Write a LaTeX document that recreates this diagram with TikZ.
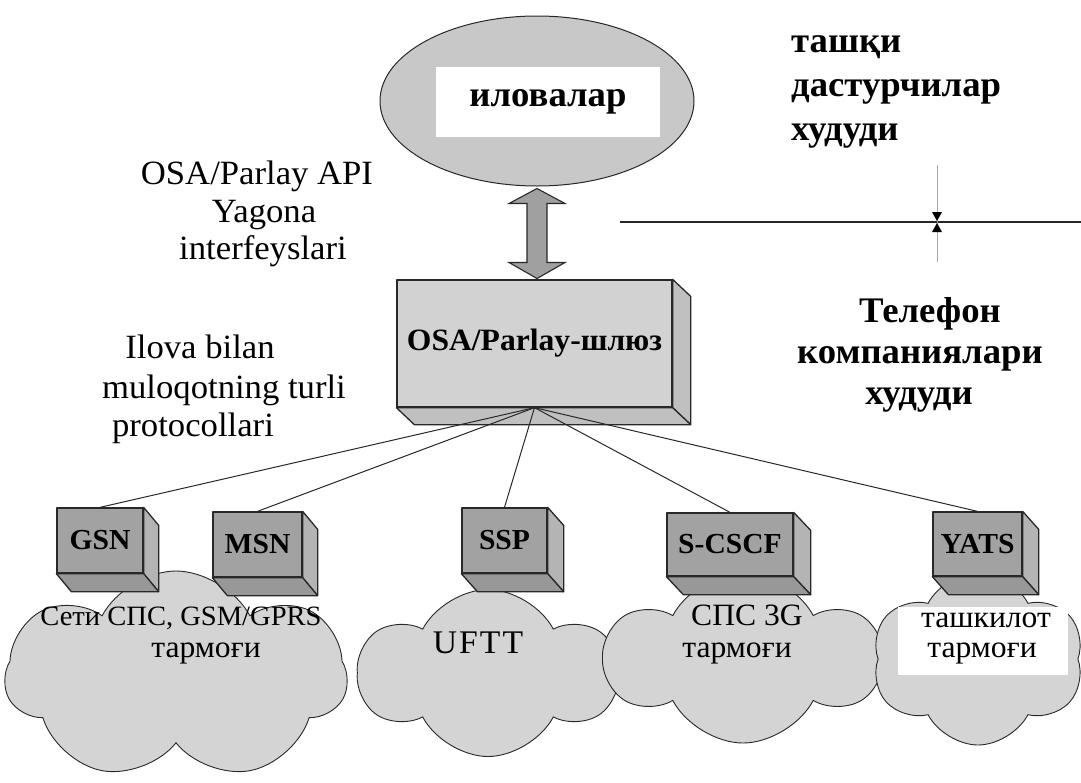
\documentclass[tikz,border=0pt]{standalone}
\usepackage{fontspec}
\setmainfont{Liberation Serif}[FakeStretch=1.02,
  BoldFont={Liberation Serif Bold}, ItalicFont={Liberation Serif Italic}]
\usetikzlibrary{shapes.geometric,shapes.symbols}

\definecolor{ellgray}{RGB}{200,200,200}
\definecolor{gwfront}{RGB}{210,210,210}
\definecolor{gwside}{RGB}{192,192,192}
\definecolor{bxfront}{RGB}{162,162,162}
\definecolor{bxside}{RGB}{180,180,180}
\definecolor{bxbottom}{RGB}{152,152,152}
\definecolor{cloudgray}{RGB}{212,212,212}
\definecolor{edge}{RGB}{40,40,40}
\definecolor{arrowgray}{RGB}{160,160,160}
\definecolor{guidegray}{RGB}{165,165,165}

% extruded faces of a box whose front face is the node #1
\newcommand{\extrudebox}[5]{%
  \filldraw[fill=#4, edgeline] (#1.north east) -- ++(#2,#3)
    -- ([shift={(#2,#3)}]#1.south east) -- (#1.south east) -- cycle;
  \filldraw[fill=#5, edgeline] (#1.south west) -- ++(#2,#3)
    -- ([shift={(#2,#3)}]#1.south east) -- (#1.south east) -- cycle;
}

\begin{document}
\begin{tikzpicture}[x=1pt,y=-1pt,
  edgeline/.style={draw=edge, line width=1.3pt, line join=round},
  reg/.style={font=\fontsize{34}{38}\selectfont, inner sep=0, anchor=base},
  hdr/.style={font=\bfseries\fontsize{36}{40}\selectfont, inner sep=0, anchor=base},
  cloudtxt/.style={font=\fontsize{31}{34}\selectfont, inner sep=0, anchor=base},
  bigface/.style={rectangle, fill=gwfront, edgeline, inner sep=0,
    font=\bfseries\fontsize{31}{34}\selectfont},
  smallface/.style={rectangle, fill=bxfront, edgeline, inner sep=0,
    minimum height=65, font=\bfseries\fontsize{29}{32}\selectfont},
  cloudshape/.style={cloud, cloud puffs=7, cloud puff arc=125, fill=cloudgray,
    draw=edge, line width=0.9pt, inner sep=0},
  link/.style={draw=edge, line width=1pt},
  dblarrow/.style={fill=arrowgray, draw=edge, line width=1.1pt, line join=miter}
]
\useasboundingbox (0,0) rectangle (1081,782);

% clouds of the access networks
\node[cloudshape, minimum width=342, minimum height=210] (c1) at (176,676) {};
\node[cloudshape, cloud puffs=6, minimum width=257, minimum height=167] (c2) at (488,673) {};
\node[cloudshape, cloud puffs=6, minimum width=273, minimum height=170] (c3) at (743,658) {};
\node[cloudshape, cloud puffs=6, minimum width=212, minimum height=172] (c4) at (978,659) {};
\node[fill=white, inner sep=0, minimum width=170, minimum height=68] (c4box) at (983,641) {};

% applications ellipse
\node[ellipse, fill=ellgray, draw=edge, line width=1pt, minimum width=314,
  minimum height=170, inner sep=0] (ell) at (537,101) {};
\node[fill=white, inner sep=0, minimum width=224, minimum height=70,
  font=\bfseries\fontsize{36}{40}\selectfont] (apps) at (548,102) {иловалар};

% gateway box
\node[bigface, minimum width=275, minimum height=127] (gw) at (534.5,343.5) {OSA/Parlay-шлюз};
\extrudebox{gw}{18}{17}{gwside}{gwside}

% two-way arrow between applications and gateway
\filldraw[dblarrow] ([yshift=-2]ell.south) -- ++(28,15) -- ++(-18,0) -- ++(0,59)
  -- ++(18,0) -- ++(-28,16) -- ++(-28,-16) -- ++(18,0) -- ++(0,-59) -- ++(-18,0) -- cycle;

% network nodes
\node[smallface, minimum width=86] (gsn) at (100,540.5) {GSN};
\extrudebox{gsn}{15}{18}{bxside}{bxbottom}
\node[smallface, minimum width=89] (msn) at (257.5,544.5) {MSN};
\extrudebox{msn}{15}{18}{bxside}{bxbottom}
\node[smallface, minimum width=85] (ssp) at (504.5,540.5) {SSP};
\extrudebox{ssp}{16}{18}{bxside}{bxbottom}
\node[smallface, minimum width=126, minimum height=63] (scscf) at (730,544.5) {S-CSCF};
\extrudebox{scscf}{17}{18}{bxside}{bxbottom}
\node[smallface, minimum width=89, minimum height=64] (yats) at (977.5,544) {YATS};
\extrudebox{yats}{16}{18}{bxside}{bxbottom}

% links from the gateway to the network nodes
\foreach \n in {gsn,msn,ssp,scscf,yats}
  \draw[link] (gw.south) -- (\n.north);

% domain boundary with its marker
\coordinate (bl) at (620,222);
\coordinate (br) at (1081,222);
\draw[line width=1.3pt, draw=black!85] (bl) -- (br);
\coordinate (mk) at (937,222);
\draw[guidegray, line width=1pt] ([yshift=57]mk) -- ([yshift=-40]mk);
\fill[black] ([shift={(-5,-10)}]mk) -- ([shift={(5,-10)}]mk) -- ([shift={(0,-1)}]mk) -- cycle;
\fill[black] ([shift={(-5,10)}]mk) -- ([shift={(5,10)}]mk) -- ([shift={(0,1)}]mk) -- cycle;

% left-hand labels
\node[reg] (api) at (257,184) {OSA/Parlay API};
\node[reg] (yag) at (264,222) {Yagona};
\node[reg] (intf) at (263,259) {interfeyslari};
\node[reg] (ilova) at (200,358) {Ilova bilan};
\node[reg] (mul) at (224,398) {muloqotning turli};
\node[reg] (prot) at (193,436) {protocollari};

% domain captions
\node[hdr, anchor=base west] (d1) at (791,52) {ташқи};
\node[hdr, anchor=base west] (d2) at (791,96) {дастурчилар};
\node[hdr, anchor=base west] (d3) at (791,140) {худуди};
\node[hdr] (t1) at (930,322) {Телефон};
\node[hdr] (t2) at (920,363) {компаниялари};
\node[hdr] (t3) at (919,404) {худуди};

% network captions
\node[cloudtxt, font=\fontsize{28}{30}\selectfont] (n1a) at (181,625) {Сети СПС, GSM/GPRS};
\node[cloudtxt] (n1b) at (206,657) {тармоғи};
\node[cloudtxt, font=\fontsize{33}{36}\selectfont] (n2) at (478,653) {U\kern2pt F\kern2pt T\kern2pt T};
\node[cloudtxt] (n3a) at (747,625) {СПС 3G};
\node[cloudtxt] (n3b) at (737,657) {тармоғи};
\node[cloudtxt] (n4a) at (986,627) {ташкилот};
\node[cloudtxt] (n4b) at (982,657) {тармоғи};
\end{tikzpicture}
\end{document}
